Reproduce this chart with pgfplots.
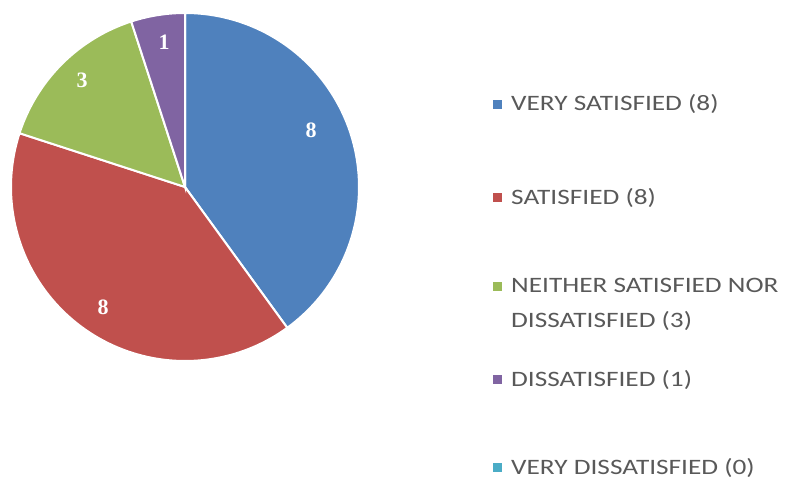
\documentclass[border=0pt]{standalone}
\usepackage{pgfplots}
\pgfplotsset{compat=1.18}
\usepackage{fontspec}
\setmainfont{Carlito}
\newfontfamily\legfont[FakeStretch=1.24]{Carlito}
\newfontfamily\lblfont{Liberation Serif}
\definecolor{cA}{HTML}{4F81BD}
\definecolor{cB}{HTML}{C0504D}
\definecolor{cC}{HTML}{9BBB59}
\definecolor{cD}{HTML}{8064A2}
\definecolor{cE}{HTML}{4BACC6}
\definecolor{legtext}{HTML}{595959}
% values
\def\vA{8}\def\vB{8}\def\vC{3}\def\vD{1}\def\vE{0}
\pgfmathsetmacro\tot{\vA+\vB+\vC+\vD+\vE}
\pgfmathsetmacro\aA{90}
\pgfmathsetmacro\aB{\aA-360*\vA/\tot}
\pgfmathsetmacro\aC{\aB-360*\vB/\tot}
\pgfmathsetmacro\aD{\aC-360*\vC/\tot}
\pgfmathsetmacro\aE{\aD-360*\vD/\tot}
\def\cx{185}\def\cy{297}\def\rr{174}
\begin{document}
\begin{tikzpicture}
\begin{axis}[x=1pt,y=1pt,xmin=0,xmax=787,ymin=0,ymax=484,hide axis,clip=false]
\path (rel axis cs:0,0) rectangle (rel axis cs:1,1);
\addplot[fill=cA,draw=white,line width=2pt,domain=\aB:\aA,samples=90,variable=\t]
  ({\cx+\rr*cos(\t)},{\cy+\rr*sin(\t)}) -- (axis cs:\cx,\cy) -- cycle;
\addplot[fill=cB,draw=white,line width=2pt,domain=\aC:\aB,samples=90,variable=\t]
  ({\cx+\rr*cos(\t)},{\cy+\rr*sin(\t)}) -- (axis cs:\cx,\cy) -- cycle;
\addplot[fill=cC,draw=white,line width=2pt,domain=\aD:\aC,samples=40,variable=\t]
  ({\cx+\rr*cos(\t)},{\cy+\rr*sin(\t)}) -- (axis cs:\cx,\cy) -- cycle;
\addplot[fill=cD,draw=white,line width=2pt,domain=\aE:\aD,samples=20,variable=\t]
  ({\cx+\rr*cos(\t)},{\cy+\rr*sin(\t)}) -- (axis cs:\cx,\cy) -- cycle;
% slice labels
\begin{scope}[every node/.style={text=white,font=\lblfont\bfseries\fontsize{22}{22}\selectfont}]
\node at (axis cs:311,354) {8};
\node at (axis cs:103,177) {8};
\node at (axis cs:82,404) {3};
\node at (axis cs:164,442) {1};
\end{scope}
% legend
\fill[cA] (axis cs:493,375) rectangle (axis cs:502,384);
\fill[cB] (axis cs:493,282) rectangle (axis cs:502,291);
\fill[cC] (axis cs:493,193) rectangle (axis cs:502,202);
\fill[cD] (axis cs:493,100) rectangle (axis cs:502,109);
\fill[cE] (axis cs:493,12) rectangle (axis cs:502,21);
\begin{scope}[every node/.style={anchor=west,text=legtext,inner sep=0pt,font=\legfont\fontsize{22}{35}\selectfont}]
\node at (axis cs:511,380) {VERY SATISFIED (8)};
\node at (axis cs:511,286) {SATISFIED (8)};
\node[align=left] at (axis cs:511,179.5) {NEITHER SATISFIED NOR\\DISSATISFIED (3)};
\node at (axis cs:511,104) {DISSATISFIED (1)};
\node at (axis cs:511,16) {VERY DISSATISFIED (0)};
\end{scope}
\end{axis}
\end{tikzpicture}
\end{document}
